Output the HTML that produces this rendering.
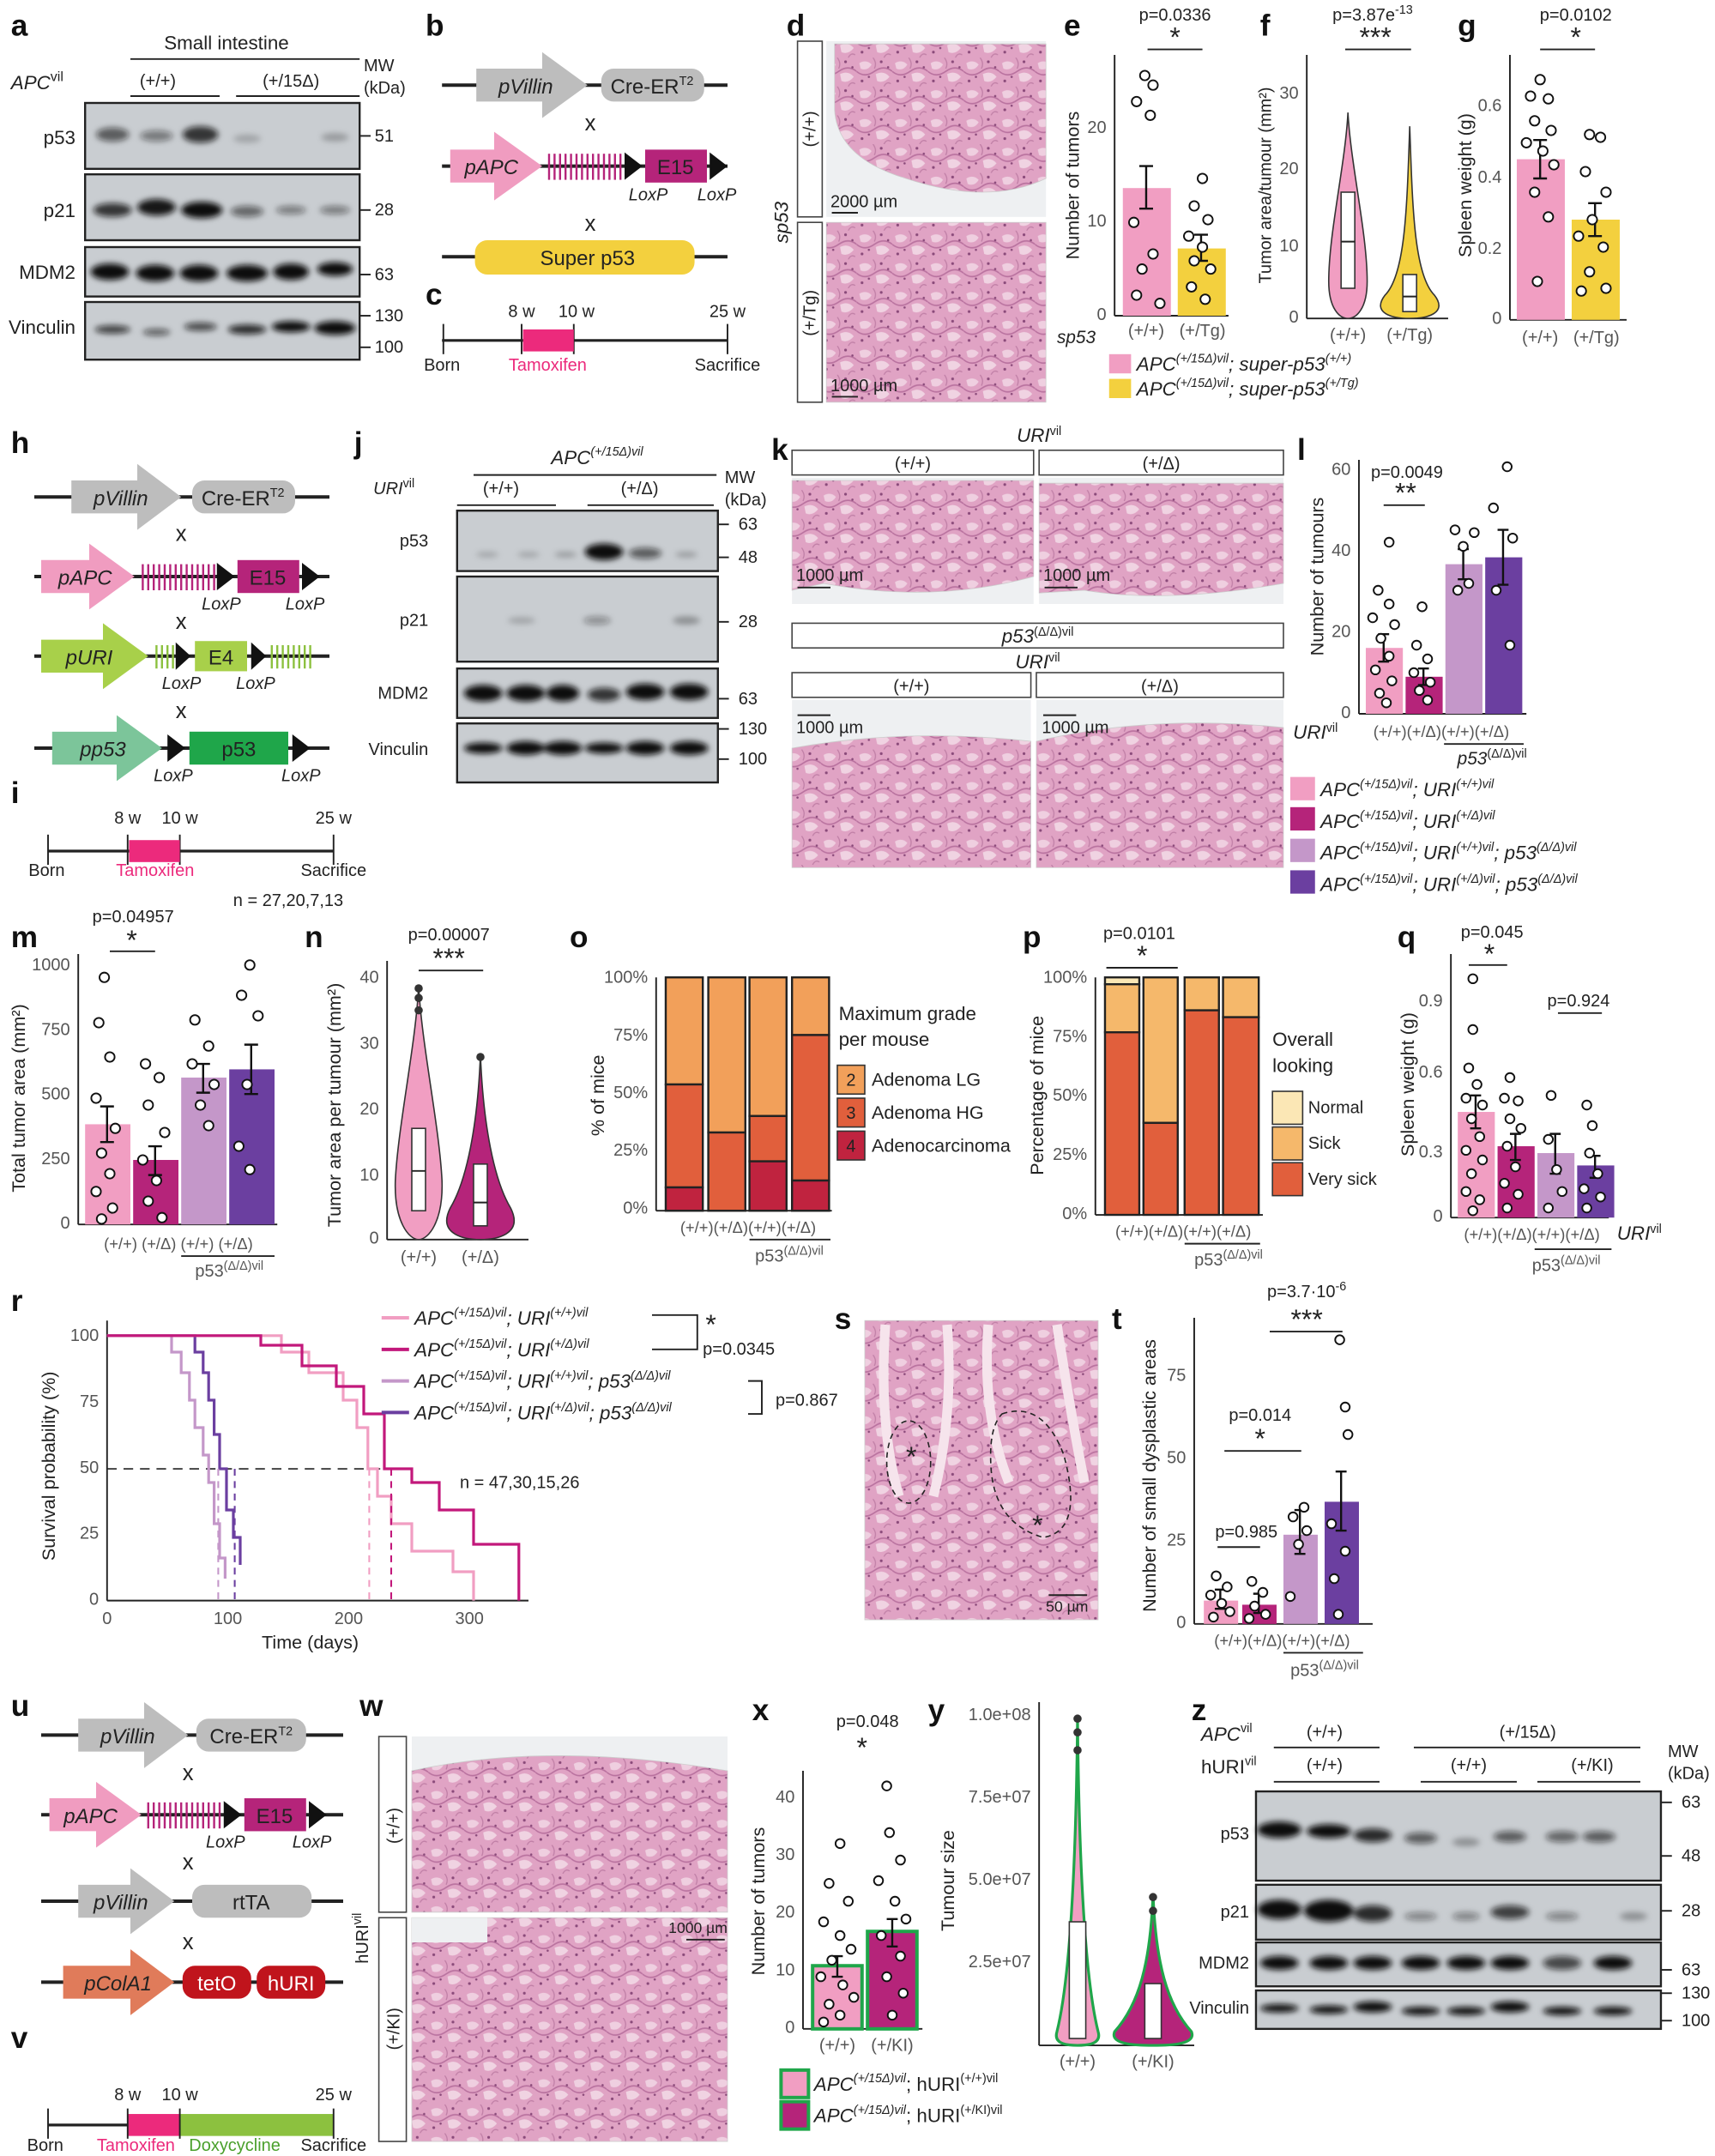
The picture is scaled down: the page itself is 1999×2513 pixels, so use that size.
<!DOCTYPE html>
<html><head><meta charset="utf-8"><style>
html,body{margin:0;padding:0;background:#fff}
svg{display:block}
text{font-family:"Liberation Sans",sans-serif;fill:#222}
.L{font-size:22px;font-weight:bold;fill:#111}
.s{fill:#555}
.i{font-style:italic}
.ax{stroke:#222;stroke-width:1.2;fill:none}
.d{fill:#fff;stroke:#111;stroke-width:1.2}
.eb{stroke:#111;stroke-width:1.5;fill:none}
.bl{fill:#c9cdd1;stroke:#222;stroke-width:1.5}
.bd{fill:#111;filter:url(#blur)}
.h{fill:url(#hist);stroke:#ccc;stroke-width:.5}
.lb{fill:#fff;stroke:#444;stroke-width:1}
</style></head><body>
<svg width="1999" height="2513" viewBox="0 0 1249.4 1570.6" preserveAspectRatio="none" xmlns="http://www.w3.org/2000/svg" font-size="12.5">
<defs>
<filter id="blur" x="-30%" y="-80%" width="160%" height="260%"><feGaussianBlur stdDeviation="2.2"/></filter>
<pattern id="hist" width="26" height="21" patternUnits="userSpaceOnUse">
<rect width="26" height="21" fill="#e0a3c4"/>
<path d="M2 4 Q7 1 11 5 Q8 10 3 8Z" fill="#efcfe0"/>
<path d="M14 12 Q20 9 24 14 Q20 19 15 17Z" fill="#f0d3e2"/>
<path d="M0 10 Q6 15 13 10 T26 10" stroke="#b9729f" stroke-width="1" fill="none"/>
<path d="M12 0 Q15 4 13 8 M20 21 Q22 17 25 19" stroke="#c07fa6" stroke-width=".8" fill="none"/>
<circle cx="4" cy="17" r="1" fill="#8a4a7a"/><circle cx="18" cy="3" r="1" fill="#8a4a7a"/><circle cx="9" cy="14" r=".8" fill="#8a4a7a"/><circle cx="23" cy="7" r=".8" fill="#8a4a7a"/>
</pattern>
</defs>

<!-- ================= a ================= -->
<text x="8" y="26" class="L">a</text>
<text x="165" y="36" text-anchor="middle" font-size="14">Small intestine</text>
<line x1="95" y1="43" x2="262" y2="43" class="ax"/>
<text x="8" y="65" class="i" font-size="14">APC<tspan font-style="normal" font-size="10" dy="-6">vil</tspan></text>
<text x="115" y="63" text-anchor="middle">(+/+)</text>
<text x="212" y="63" text-anchor="middle">(+/15Δ)</text>
<line x1="95" y1="70" x2="160" y2="70" class="ax"/><line x1="172" y1="70" x2="262" y2="70" class="ax"/>
<text x="265" y="52">MW</text><text x="265" y="68">(kDa)</text>
<rect x="62" y="75" width="200" height="48" class="bl"/>
<rect x="62" y="127" width="200" height="48" class="bl"/>
<rect x="62" y="180" width="200" height="36" class="bl"/>
<rect x="62" y="220" width="200" height="42" class="bl"/>
<g class="bd">
<ellipse cx="82" cy="98" rx="12" ry="5" opacity=".6"/><ellipse cx="114" cy="99" rx="12" ry="4" opacity=".45"/><ellipse cx="146" cy="98" rx="13" ry="6" opacity=".8"/>
<ellipse cx="180" cy="101" rx="10" ry="3" opacity=".2"/><ellipse cx="244" cy="100" rx="10" ry="3" opacity=".25"/>
<ellipse cx="82" cy="153" rx="14" ry="5" opacity=".8"/><ellipse cx="114" cy="151" rx="14" ry="6" opacity=".95"/><ellipse cx="147" cy="153" rx="15" ry="6"/>
<ellipse cx="180" cy="154" rx="12" ry="4" opacity=".55"/><ellipse cx="212" cy="153" rx="11" ry="3" opacity=".45"/><ellipse cx="244" cy="153" rx="11" ry="3" opacity=".45"/>
<ellipse cx="80" cy="198" rx="14" ry="6"/><ellipse cx="113" cy="199" rx="14" ry="6"/><ellipse cx="145" cy="199" rx="14" ry="6"/>
<ellipse cx="180" cy="199" rx="15" ry="6"/><ellipse cx="212" cy="198" rx="13" ry="6"/><ellipse cx="244" cy="196" rx="13" ry="5"/>
<ellipse cx="82" cy="240" rx="13" ry="3" opacity=".75"/><ellipse cx="114" cy="242" rx="10" ry="2.5" opacity=".6"/><ellipse cx="146" cy="238" rx="12" ry="3" opacity=".7"/>
<ellipse cx="180" cy="240" rx="14" ry="3.5" opacity=".85"/><ellipse cx="212" cy="238" rx="14" ry="4"/><ellipse cx="244" cy="239" rx="15" ry="5"/>
</g>
<text x="55" y="105" text-anchor="end" font-size="14">p53</text>
<text x="55" y="158" text-anchor="end" font-size="14">p21</text>
<text x="55" y="203" text-anchor="end" font-size="14">MDM2</text>
<text x="55" y="243" text-anchor="end" font-size="14">Vinculin</text>
<g class="ax"><line x1="262" y1="99" x2="270" y2="99"/><line x1="262" y1="153" x2="270" y2="153"/><line x1="262" y1="200" x2="270" y2="200"/><line x1="262" y1="230" x2="270" y2="230"/><line x1="262" y1="253" x2="270" y2="253"/></g>
<text x="273" y="103">51</text><text x="273" y="157">28</text><text x="273" y="204">63</text><text x="273" y="234">130</text><text x="273" y="257">100</text>

<!-- ================= b ================= -->
<text x="310" y="26" class="L">b</text>
<line x1="322" y1="62" x2="530" y2="62" stroke="#222" stroke-width="2.5"/>
<path d="M347 50 H395 V38 L428 62 L395 86 V74 H347 Z" fill="#bdbdbd"/>
<text x="383" y="68" class="i" text-anchor="middle" font-size="15">pVillin</text>
<rect x="438" y="50" width="75" height="24" rx="9" fill="#bdbdbd"/>
<text x="475" y="68" text-anchor="middle" font-size="15">Cre-ER<tspan font-size="9" dy="-6">T2</tspan></text>
<text x="430" y="95" text-anchor="middle" font-size="16">x</text>
<line x1="322" y1="121" x2="530" y2="121" stroke="#222" stroke-width="2.5"/>
<path d="M328 109 H360 V96 L395 121 L360 146 V133 H328 Z" fill="#f09cc0"/>
<text x="358" y="127" class="i" text-anchor="middle" font-size="15">pAPC</text>
<g stroke="#b5247a" stroke-width="1.5">
<line x1="400" y1="112" x2="400" y2="131"/><line x1="404" y1="112" x2="404" y2="131"/><line x1="408" y1="112" x2="408" y2="131"/><line x1="412" y1="112" x2="412" y2="131"/><line x1="416" y1="112" x2="416" y2="131"/><line x1="420" y1="112" x2="420" y2="131"/><line x1="424" y1="112" x2="424" y2="131"/><line x1="428" y1="112" x2="428" y2="131"/><line x1="432" y1="112" x2="432" y2="131"/><line x1="436" y1="112" x2="436" y2="131"/><line x1="440" y1="112" x2="440" y2="131"/><line x1="444" y1="112" x2="444" y2="131"/><line x1="448" y1="112" x2="448" y2="131"/><line x1="452" y1="112" x2="452" y2="131"/></g>
<path d="M455 111 L468 121 L455 131 Z" fill="#111"/>
<rect x="470" y="109" width="45" height="24" fill="#b5247a"/>
<text x="492" y="127" text-anchor="middle" font-size="15">E15</text>
<path d="M517 111 L530 121 L517 131 Z" fill="#111"/>
<text x="458" y="146" class="i">LoxP</text><text x="508" y="146" class="i">LoxP</text>
<text x="430" y="168" text-anchor="middle" font-size="16">x</text>
<line x1="322" y1="187" x2="530" y2="187" stroke="#222" stroke-width="2.5"/>
<rect x="346" y="175" width="160" height="25" rx="9" fill="#f3d03e"/>
<text x="428" y="193" text-anchor="middle" font-size="15">Super p53</text>

<!-- c -->
<text x="310" y="222" class="L">c</text>
<line x1="322" y1="248" x2="530" y2="248" stroke="#222" stroke-width="2"/>
<line x1="323" y1="236" x2="323" y2="258" class="ax" stroke-width="2"/><line x1="380" y1="236" x2="380" y2="258" class="ax" stroke-width="2"/><line x1="418" y1="236" x2="418" y2="258" class="ax" stroke-width="2"/><line x1="530" y1="236" x2="530" y2="258" class="ax" stroke-width="2"/>
<rect x="381" y="240" width="37" height="16" fill="#ec2a7c"/>
<text x="380" y="231" text-anchor="middle">8 w</text><text x="420" y="231" text-anchor="middle">10 w</text><text x="530" y="231" text-anchor="middle">25 w</text>
<text x="322" y="270" text-anchor="middle">Born</text><text x="399" y="270" text-anchor="middle" style="fill:#ec2a7c">Tamoxifen</text><text x="530" y="270" text-anchor="middle">Sacrifice</text>

<!-- d -->
<text x="573" y="26" class="L">d</text>
<rect x="581" y="30" width="18" height="128" class="lb"/><rect x="581" y="162" width="18" height="131" class="lb"/>
<text transform="translate(594,94) rotate(-90)" text-anchor="middle">(+/+)</text>
<text transform="translate(594,228) rotate(-90)" text-anchor="middle">(+/Tg)</text>
<text transform="translate(574,162) rotate(-90)" class="i" text-anchor="middle" font-size="14">sp53</text>
<rect x="602" y="30" width="160" height="128" fill="#eef0f2"/>
<path d="M608 32 H762 V130 Q720 150 660 130 Q610 115 608 80 Z" class="h"/>
<rect x="602" y="162" width="160" height="131" class="h"/>
<text x="605" y="151">2000 µm</text><line x1="606" y1="155" x2="625" y2="155" class="ax"/>
<text x="605" y="285">1000 µm</text><line x1="606" y1="289" x2="625" y2="289" class="ax"/>

<!-- e -->
<text x="775" y="26" class="L">e</text>
<text x="856" y="15" text-anchor="middle">p=0.0336</text><text x="856" y="34" text-anchor="middle" font-size="20">*</text>
<line x1="836" y1="36" x2="876" y2="36" class="ax"/>
<text transform="translate(786,135) rotate(-90)" text-anchor="middle" font-size="13.5">Number of tumors</text>
<line x1="812" y1="40" x2="812" y2="230" class="ax"/><line x1="812" y1="230" x2="895" y2="230" class="ax"/>
<text x="806" y="233" class="s" text-anchor="end">0</text><text x="806" y="165" class="s" text-anchor="end">10</text><text x="806" y="97" class="s" text-anchor="end">20</text>
<rect x="818" y="137" width="35" height="93" fill="#f19ec2"/><rect x="858" y="181" width="35" height="49" fill="#f3d03e"/>
<path d="M835 121 V152 M830 121 H840 M830 152 H840 M875 171 V190 M870 171 H880 M870 190 H880" class="eb"/>
<g class="d"><circle cx="834" cy="55" r="3.5"/><circle cx="840" cy="62" r="3.5"/><circle cx="828" cy="74" r="3.5"/><circle cx="838" cy="84" r="3.5"/><circle cx="826" cy="162" r="3.5"/><circle cx="840" cy="185" r="3.5"/><circle cx="832" cy="196" r="3.5"/><circle cx="828" cy="215" r="3.5"/><circle cx="845" cy="221" r="3.5"/>
<circle cx="876" cy="130" r="3.5"/><circle cx="870" cy="150" r="3.5"/><circle cx="880" cy="160" r="3.5"/><circle cx="866" cy="172" r="3.5"/><circle cx="876" cy="180" r="3.5"/><circle cx="870" cy="190" r="3.5"/><circle cx="882" cy="196" r="3.5"/><circle cx="868" cy="209" r="3.5"/><circle cx="878" cy="218" r="3.5"/></g>
<text x="835" y="245" class="s" text-anchor="middle">(+/+)</text><text x="876" y="245" class="s" text-anchor="middle">(+/Tg)</text>
<text x="770" y="250" class="i" font-size="13">sp53</text>

<!-- f -->
<text x="918" y="26" class="L">f</text>
<text x="1000" y="15" text-anchor="middle">p=3.87e<tspan font-size="9" dy="-5">-13</tspan></text><text x="1002" y="34" text-anchor="middle" font-size="20">***</text>
<line x1="980" y1="36" x2="1028" y2="36" class="ax"/>
<text transform="translate(926,135) rotate(-90)" text-anchor="middle">Tumor area/tumour (mm²)</text>
<line x1="952" y1="40" x2="952" y2="232" class="ax"/><line x1="952" y1="232" x2="1055" y2="232" class="ax"/>
<text x="946" y="235" class="s" text-anchor="end">0</text><text x="946" y="183" class="s" text-anchor="end">10</text><text x="946" y="127" class="s" text-anchor="end">20</text><text x="946" y="72" class="s" text-anchor="end">30</text>
<path d="M982 82 C984 120 996 170 996 205 C996 225 988 232 982 232 C976 232 968 225 968 205 C968 170 980 120 982 82Z" fill="#f19ec2" stroke="#333"/>
<path d="M1027 92 C1029 150 1030 200 1045 215 C1055 228 1040 232 1027 232 C1014 232 999 228 1009 215 C1024 200 1025 150 1027 92Z" fill="#f3d03e" stroke="#333"/>
<rect x="977" y="140" width="10" height="70" fill="#fff" stroke="#333"/><line x1="977" y1="176" x2="987" y2="176" class="ax"/>
<rect x="1022" y="200" width="10" height="27" fill="#fff" stroke="#333"/><line x1="1022" y1="216" x2="1032" y2="216" class="ax"/>
<text x="982" y="248" class="s" text-anchor="middle">(+/+)</text><text x="1027" y="248" class="s" text-anchor="middle">(+/Tg)</text>

<!-- g -->
<text x="1062" y="26" class="L">g</text>
<text x="1148" y="15" text-anchor="middle">p=0.0102</text><text x="1148" y="34" text-anchor="middle" font-size="20">*</text>
<line x1="1122" y1="36" x2="1162" y2="36" class="ax"/>
<text transform="translate(1072,135) rotate(-90)" text-anchor="middle" font-size="13.5">Spleen weight (g)</text>
<line x1="1100" y1="40" x2="1100" y2="233" class="ax"/><line x1="1100" y1="233" x2="1185" y2="233" class="ax"/>
<text x="1094" y="236" class="s" text-anchor="end">0</text><text x="1094" y="185" class="s" text-anchor="end">0.2</text><text x="1094" y="133" class="s" text-anchor="end">0.4</text><text x="1094" y="81" class="s" text-anchor="end">0.6</text>
<rect x="1105" y="116" width="35" height="117" fill="#f19ec2"/><rect x="1145" y="160" width="35" height="73" fill="#f3d03e"/>
<path d="M1122 102 V130 M1117 102 H1127 M1117 130 H1127 M1162 148 V172 M1157 148 H1167 M1157 172 H1167" class="eb"/>
<g class="d"><circle cx="1122" cy="58" r="3.5"/><circle cx="1115" cy="70" r="3.5"/><circle cx="1128" cy="72" r="3.5"/><circle cx="1118" cy="88" r="3.5"/><circle cx="1130" cy="95" r="3.5"/><circle cx="1112" cy="104" r="3.5"/><circle cx="1124" cy="110" r="3.5"/><circle cx="1132" cy="120" r="3.5"/><circle cx="1118" cy="140" r="3.5"/><circle cx="1128" cy="158" r="3.5"/><circle cx="1120" cy="205" r="3.5"/>
<circle cx="1158" cy="98" r="3.5"/><circle cx="1166" cy="100" r="3.5"/><circle cx="1155" cy="125" r="3.5"/><circle cx="1170" cy="140" r="3.5"/><circle cx="1160" cy="160" r="3.5"/><circle cx="1150" cy="172" r="3.5"/><circle cx="1168" cy="180" r="3.5"/><circle cx="1158" cy="198" r="3.5"/><circle cx="1170" cy="210" r="3.5"/><circle cx="1152" cy="212" r="3.5"/></g>
<text x="1122" y="250" class="s" text-anchor="middle">(+/+)</text><text x="1163" y="250" class="s" text-anchor="middle">(+/Tg)</text>

<rect x="808" y="258" width="16" height="14" fill="#f19ec2"/><rect x="808" y="276" width="16" height="14" fill="#f3d03e"/>
<text x="828" y="270" class="i" font-size="14">APC<tspan font-size="9" dy="-6">(+/15Δ)vil</tspan><tspan dy="6">; super-p53</tspan><tspan font-size="9" dy="-6">(+/+)</tspan></text>
<text x="828" y="288" class="i" font-size="14">APC<tspan font-size="9" dy="-6">(+/15Δ)vil</tspan><tspan dy="6">; super-p53</tspan><tspan font-size="9" dy="-6">(+/Tg)</tspan></text>

<!-- ================= h ================= -->
<text x="8" y="330" class="L">h</text>
<line x1="25" y1="362" x2="240" y2="362" stroke="#222" stroke-width="2.5"/>
<path d="M52 350 H100 V338 L132 362 L100 386 V374 H52 Z" fill="#bdbdbd"/>
<text x="88" y="368" class="i" text-anchor="middle" font-size="15">pVillin</text>
<rect x="140" y="350" width="75" height="24" rx="9" fill="#bdbdbd"/>
<text x="177" y="368" text-anchor="middle" font-size="15">Cre-ER<tspan font-size="9" dy="-6">T2</tspan></text>
<text x="132" y="394" text-anchor="middle" font-size="16">x</text>
<line x1="25" y1="420" x2="240" y2="420" stroke="#222" stroke-width="2.5"/>
<path d="M30 408 H65 V396 L98 420 L65 444 V432 H30 Z" fill="#f09cc0"/>
<text x="62" y="426" class="i" text-anchor="middle" font-size="15">pAPC</text>
<g stroke="#b5247a" stroke-width="1.5"><line x1="104" y1="411" x2="104" y2="430"/><line x1="108" y1="411" x2="108" y2="430"/><line x1="112" y1="411" x2="112" y2="430"/><line x1="116" y1="411" x2="116" y2="430"/><line x1="120" y1="411" x2="120" y2="430"/><line x1="124" y1="411" x2="124" y2="430"/><line x1="128" y1="411" x2="128" y2="430"/><line x1="132" y1="411" x2="132" y2="430"/><line x1="136" y1="411" x2="136" y2="430"/><line x1="140" y1="411" x2="140" y2="430"/><line x1="144" y1="411" x2="144" y2="430"/><line x1="148" y1="411" x2="148" y2="430"/><line x1="152" y1="411" x2="152" y2="430"/><line x1="156" y1="411" x2="156" y2="430"/></g>
<path d="M158 410 L171 420 L158 430 Z" fill="#111"/>
<rect x="173" y="408" width="45" height="24" fill="#b5247a"/><text x="195" y="426" text-anchor="middle" font-size="15">E15</text>
<path d="M220 410 L233 420 L220 430 Z" fill="#111"/>
<text x="147" y="444" class="i">LoxP</text><text x="208" y="444" class="i">LoxP</text>
<text x="132" y="458" text-anchor="middle" font-size="16">x</text>
<line x1="25" y1="478" x2="240" y2="478" stroke="#222" stroke-width="2.5"/>
<path d="M30 466 H75 V454 L108 478 L75 502 V490 H30 Z" fill="#a8d04a"/>
<text x="65" y="484" class="i" text-anchor="middle" font-size="15">pURI</text>
<g stroke="#8cc13f" stroke-width="1.5"><line x1="114" y1="470" x2="114" y2="487"/><line x1="118" y1="470" x2="118" y2="487"/><line x1="122" y1="470" x2="122" y2="487"/><line x1="126" y1="470" x2="126" y2="487"/><line x1="198" y1="470" x2="198" y2="487"/><line x1="202" y1="470" x2="202" y2="487"/><line x1="206" y1="470" x2="206" y2="487"/><line x1="210" y1="470" x2="210" y2="487"/><line x1="214" y1="470" x2="214" y2="487"/><line x1="218" y1="470" x2="218" y2="487"/><line x1="222" y1="470" x2="222" y2="487"/><line x1="226" y1="470" x2="226" y2="487"/></g>
<path d="M128 468 L139 478 L128 488 Z" fill="#111"/>
<rect x="142" y="467" width="38" height="22" fill="#a8d04a"/><text x="161" y="484" text-anchor="middle" font-size="15">E4</text>
<path d="M183 468 L194 478 L183 488 Z" fill="#111"/>
<text x="118" y="502" class="i">LoxP</text><text x="172" y="502" class="i">LoxP</text>
<text x="132" y="523" text-anchor="middle" font-size="16">x</text>
<line x1="25" y1="545" x2="240" y2="545" stroke="#222" stroke-width="2.5"/>
<path d="M38 533 H85 V521 L118 545 L85 569 V557 H38 Z" fill="#7cc59a"/>
<text x="75" y="551" class="i" text-anchor="middle" font-size="15">pp53</text>
<path d="M122 535 L135 545 L122 555 Z" fill="#111"/>
<rect x="138" y="533" width="72" height="24" fill="#1fa64a"/><text x="174" y="551" text-anchor="middle" font-size="15">p53</text>
<path d="M213 535 L226 545 L213 555 Z" fill="#111"/>
<text x="112" y="569" class="i">LoxP</text><text x="205" y="569" class="i">LoxP</text>

<!-- i -->
<text x="8" y="585" class="L">i</text>
<line x1="35" y1="620" x2="243" y2="620" stroke="#222" stroke-width="2"/>
<line x1="35" y1="608" x2="35" y2="630" class="ax" stroke-width="2"/><line x1="93" y1="608" x2="93" y2="630" class="ax" stroke-width="2"/><line x1="131" y1="608" x2="131" y2="630" class="ax" stroke-width="2"/><line x1="243" y1="608" x2="243" y2="630" class="ax" stroke-width="2"/>
<rect x="94" y="612" width="37" height="16" fill="#ec2a7c"/>
<text x="93" y="600" text-anchor="middle">8 w</text><text x="131" y="600" text-anchor="middle">10 w</text><text x="243" y="600" text-anchor="middle">25 w</text>
<text x="34" y="638" text-anchor="middle">Born</text><text x="113" y="638" text-anchor="middle" style="fill:#ec2a7c">Tamoxifen</text><text x="243" y="638" text-anchor="middle">Sacrifice</text>
<text x="210" y="660" text-anchor="middle">n = 27,20,7,13</text>

<!-- j -->
<text x="258" y="330" class="L">j</text>
<text x="435" y="338" class="i" text-anchor="middle" font-size="14">APC<tspan font-size="9" dy="-6">(+/15Δ)vil</tspan></text>
<line x1="345" y1="346" x2="522" y2="346" class="ax"/>
<text x="272" y="360" class="i">URI<tspan font-size="9" dy="-5" font-style="normal">vil</tspan></text>
<text x="365" y="360" text-anchor="middle">(+/+)</text><text x="466" y="360" text-anchor="middle">(+/Δ)</text>
<line x1="333" y1="368" x2="405" y2="368" class="ax"/><line x1="428" y1="368" x2="520" y2="368" class="ax"/>
<text x="528" y="352">MW</text><text x="528" y="368">(kDa)</text>
<rect x="333" y="372" width="190" height="44" class="bl"/><rect x="333" y="420" width="190" height="62" class="bl"/><rect x="333" y="487" width="190" height="36" class="bl"/><rect x="333" y="527" width="190" height="43" class="bl"/>
<g class="bd">
<ellipse cx="355" cy="404" rx="8" ry="2" opacity=".2"/><ellipse cx="385" cy="404" rx="8" ry="2" opacity=".2"/><ellipse cx="412" cy="404" rx="8" ry="2" opacity=".25"/>
<ellipse cx="440" cy="402" rx="14" ry="6"/><ellipse cx="470" cy="403" rx="12" ry="4" opacity=".6"/><ellipse cx="500" cy="404" rx="8" ry="2" opacity=".25"/>
<ellipse cx="380" cy="452" rx="10" ry="2.5" opacity=".2"/><ellipse cx="435" cy="452" rx="10" ry="3" opacity=".35"/><ellipse cx="500" cy="452" rx="10" ry="3" opacity=".3"/>
<ellipse cx="352" cy="505" rx="14" ry="6"/><ellipse cx="383" cy="505" rx="14" ry="6"/><ellipse cx="410" cy="505" rx="12" ry="6"/><ellipse cx="440" cy="506" rx="12" ry="5" opacity=".8"/><ellipse cx="470" cy="504" rx="14" ry="6"/><ellipse cx="502" cy="504" rx="14" ry="6"/>
<ellipse cx="352" cy="545" rx="14" ry="4"/><ellipse cx="383" cy="545" rx="14" ry="5"/><ellipse cx="410" cy="545" rx="14" ry="5"/><ellipse cx="440" cy="545" rx="14" ry="4"/><ellipse cx="470" cy="545" rx="14" ry="5"/><ellipse cx="502" cy="545" rx="14" ry="5"/>
</g>
<text x="312" y="398" text-anchor="end">p53</text><text x="312" y="456" text-anchor="end">p21</text><text x="312" y="509" text-anchor="end">MDM2</text><text x="312" y="550" text-anchor="end">Vinculin</text>
<g class="ax"><line x1="523" y1="382" x2="531" y2="382"/><line x1="523" y1="406" x2="531" y2="406"/><line x1="523" y1="453" x2="531" y2="453"/><line x1="523" y1="509" x2="531" y2="509"/><line x1="523" y1="531" x2="531" y2="531"/><line x1="523" y1="553" x2="531" y2="553"/></g>
<text x="538" y="386">63</text><text x="538" y="410">48</text><text x="538" y="457">28</text><text x="538" y="513">63</text><text x="538" y="535">130</text><text x="538" y="557">100</text>

<!-- k -->
<text x="562" y="335" class="L">k</text>
<text x="757" y="322" class="i" text-anchor="middle" font-size="14">URI<tspan font-size="9" font-style="normal" dy="-5">vil</tspan></text>
<rect x="577" y="328" width="176" height="18" class="lb"/><rect x="757" y="328" width="178" height="18" class="lb"/>
<text x="665" y="342" text-anchor="middle">(+/+)</text><text x="846" y="342" text-anchor="middle">(+/Δ)</text>
<rect x="577" y="348" width="176" height="92" fill="#eef0f2"/><path d="M577 350 H753 V420 Q680 440 600 425 L577 430 Z" class="h"/>
<rect x="757" y="348" width="178" height="92" fill="#eef0f2"/><path d="M757 352 H935 V425 Q850 440 790 430 L757 432 Z" class="h"/>
<text x="580" y="423">1000 µm</text><line x1="581" y1="428" x2="605" y2="428" class="ax"/>
<text x="760" y="423">1000 µm</text><line x1="761" y1="428" x2="785" y2="428" class="ax"/>
<rect x="577" y="454" width="358" height="18" class="lb"/>
<text x="756" y="468" class="i" text-anchor="middle" font-size="14">p53<tspan font-size="9" font-style="normal" dy="-5">(Δ/Δ)vil</tspan></text>
<text x="756" y="487" class="i" text-anchor="middle" font-size="14">URI<tspan font-size="9" font-style="normal" dy="-5">vil</tspan></text>
<rect x="577" y="490" width="174" height="18" class="lb"/><rect x="755" y="490" width="180" height="18" class="lb"/>
<text x="664" y="504" text-anchor="middle">(+/+)</text><text x="845" y="504" text-anchor="middle">(+/Δ)</text>
<rect x="577" y="510" width="174" height="122" fill="#eef0f2"/><path d="M577 545 Q660 530 751 540 V632 H577 Z" class="h"/>
<rect x="755" y="510" width="180" height="122" fill="#eef0f2"/><path d="M755 540 Q840 520 935 530 V632 H755 Z" class="h"/>
<text x="580" y="534">1000 µm</text><line x1="581" y1="521" x2="605" y2="521" class="ax"/>
<text x="759" y="534">1000 µm</text><line x1="760" y1="521" x2="784" y2="521" class="ax"/>

<!-- l -->
<text x="945" y="335" class="L">l</text>
<text x="1025" y="348" text-anchor="middle">p=0.0049</text><text x="1024" y="366" text-anchor="middle" font-size="20">**</text>
<line x1="1008" y1="368" x2="1038" y2="368" class="ax"/>
<text transform="translate(964,420) rotate(-90)" text-anchor="middle" font-size="13.5">Number of tumours</text>
<line x1="990" y1="335" x2="990" y2="520" class="ax"/><line x1="990" y1="520" x2="1112" y2="520" class="ax"/>
<text x="984" y="523" class="s" text-anchor="end">0</text><text x="984" y="464" class="s" text-anchor="end">20</text><text x="984" y="405" class="s" text-anchor="end">40</text><text x="984" y="346" class="s" text-anchor="end">60</text>
<rect x="995" y="472" width="27" height="48" fill="#f19ec2"/><rect x="1024" y="493" width="27" height="27" fill="#b5247a"/><rect x="1053" y="411" width="27" height="109" fill="#c497c9"/><rect x="1082" y="406" width="27" height="114" fill="#6b3fa0"/>
<path d="M1008 462 V482 M1004 462 H1012 M1004 482 H1012 M1037 487 V499 M1033 487 H1041 M1033 499 H1041 M1066 400 V422 M1062 400 H1070 M1062 422 H1070 M1095 386 V426 M1091 386 H1099 M1091 426 H1099" class="eb"/>
<g class="d"><circle cx="1012" cy="395" r="3.3"/><circle cx="1004" cy="430" r="3.3"/><circle cx="1012" cy="440" r="3.3"/><circle cx="1000" cy="450" r="3.3"/><circle cx="1016" cy="455" r="3.3"/><circle cx="1006" cy="465" r="3.3"/><circle cx="1012" cy="478" r="3.3"/><circle cx="1002" cy="488" r="3.3"/><circle cx="1014" cy="496" r="3.3"/><circle cx="1005" cy="505" r="3.3"/><circle cx="1010" cy="512" r="3.3"/>
<circle cx="1036" cy="442" r="3.3"/><circle cx="1032" cy="470" r="3.3"/><circle cx="1040" cy="480" r="3.3"/><circle cx="1030" cy="490" r="3.3"/><circle cx="1042" cy="497" r="3.3"/><circle cx="1034" cy="503" r="3.3"/><circle cx="1040" cy="510" r="3.3"/>
<circle cx="1060" cy="386" r="3.3"/><circle cx="1074" cy="388" r="3.3"/><circle cx="1066" cy="398" r="3.3"/><circle cx="1070" cy="425" r="3.3"/><circle cx="1062" cy="430" r="3.3"/>
<circle cx="1098" cy="340" r="3.3"/><circle cx="1088" cy="370" r="3.3"/><circle cx="1102" cy="392" r="3.3"/><circle cx="1090" cy="430" r="3.3"/><circle cx="1100" cy="470" r="3.3"/></g>
<text x="1050" y="537" class="s" text-anchor="middle" font-size="11.5">(+/+)(+/Δ)(+/+)(+/Δ)</text>
<text x="942" y="538" class="i" font-size="14">URI<tspan font-size="9" font-style="normal" dy="-5">vil</tspan></text>
<line x1="1052" y1="542" x2="1110" y2="542" class="ax"/>
<text x="1087" y="557" class="i" text-anchor="middle" font-size="13">p53<tspan font-size="9" font-style="normal" dy="-5">(Δ/Δ)vil</tspan></text>
<rect x="940" y="566" width="18" height="17" fill="#f19ec2"/><rect x="940" y="588" width="18" height="17" fill="#b5247a"/><rect x="940" y="611" width="18" height="17" fill="#c497c9"/><rect x="940" y="634" width="18" height="17" fill="#6b3fa0"/>
<text x="962" y="580" class="i" font-size="14">APC<tspan font-size="9" dy="-6">(+/15Δ)vil</tspan><tspan dy="6">; URI</tspan><tspan font-size="9" dy="-6">(+/+)vil</tspan></text>
<text x="962" y="603" class="i" font-size="14">APC<tspan font-size="9" dy="-6">(+/15Δ)vil</tspan><tspan dy="6">; URI</tspan><tspan font-size="9" dy="-6">(+/Δ)vil</tspan></text>
<text x="962" y="626" class="i" font-size="14">APC<tspan font-size="9" dy="-6">(+/15Δ)vil</tspan><tspan dy="6">; URI</tspan><tspan font-size="9" dy="-6">(+/+)vil</tspan><tspan dy="6">; p53</tspan><tspan font-size="9" dy="-6">(Δ/Δ)vil</tspan></text>
<text x="962" y="649" class="i" font-size="14">APC<tspan font-size="9" dy="-6">(+/15Δ)vil</tspan><tspan dy="6">; URI</tspan><tspan font-size="9" dy="-6">(+/Δ)vil</tspan><tspan dy="6">; p53</tspan><tspan font-size="9" dy="-6">(Δ/Δ)vil</tspan></text>

<!-- m -->
<text x="8" y="690" class="L">m</text>
<text x="97" y="672" text-anchor="middle">p=0.04957</text><text x="96" y="692" text-anchor="middle" font-size="20">*</text>
<line x1="80" y1="693" x2="113" y2="693" class="ax"/>
<text transform="translate(18,800) rotate(-90)" text-anchor="middle" font-size="13.5">Total tumor area (mm²)</text>
<line x1="57" y1="695" x2="57" y2="892" class="ax"/><line x1="57" y1="892" x2="202" y2="892" class="ax"/>
<text x="51" y="895" class="s" text-anchor="end">0</text><text x="51" y="848" class="s" text-anchor="end">250</text><text x="51" y="801" class="s" text-anchor="end">500</text><text x="51" y="754" class="s" text-anchor="end">750</text><text x="51" y="707" class="s" text-anchor="end">1000</text>
<rect x="62" y="819" width="33" height="73" fill="#f19ec2"/><rect x="97" y="845" width="33" height="47" fill="#b5247a"/><rect x="132" y="785" width="33" height="107" fill="#c497c9"/><rect x="167" y="779" width="33" height="113" fill="#6b3fa0"/>
<path d="M78 806 V832 M73 806 H83 M73 832 H83 M113 835 V856 M108 835 H118 M108 856 H118 M148 775 V796 M143 775 H153 M143 796 H153 M183 761 V797 M178 761 H188 M178 797 H188" class="eb"/>
<g class="d"><circle cx="76" cy="712" r="3.5"/><circle cx="72" cy="745" r="3.5"/><circle cx="80" cy="770" r="3.5"/><circle cx="70" cy="800" r="3.5"/><circle cx="84" cy="822" r="3.5"/><circle cx="74" cy="840" r="3.5"/><circle cx="80" cy="855" r="3.5"/><circle cx="70" cy="868" r="3.5"/><circle cx="82" cy="880" r="3.5"/><circle cx="74" cy="888" r="3.5"/>
<circle cx="106" cy="775" r="3.5"/><circle cx="116" cy="785" r="3.5"/><circle cx="108" cy="805" r="3.5"/><circle cx="120" cy="825" r="3.5"/><circle cx="104" cy="845" r="3.5"/><circle cx="114" cy="860" r="3.5"/><circle cx="108" cy="875" r="3.5"/><circle cx="118" cy="887" r="3.5"/>
<circle cx="142" cy="743" r="3.5"/><circle cx="152" cy="762" r="3.5"/><circle cx="140" cy="775" r="3.5"/><circle cx="156" cy="790" r="3.5"/><circle cx="146" cy="805" r="3.5"/><circle cx="152" cy="820" r="3.5"/>
<circle cx="182" cy="703" r="3.5"/><circle cx="176" cy="725" r="3.5"/><circle cx="188" cy="740" r="3.5"/><circle cx="180" cy="790" r="3.5"/><circle cx="174" cy="835" r="3.5"/><circle cx="182" cy="852" r="3.5"/></g>
<text x="130" y="910" class="s" text-anchor="middle" font-size="11.5">(+/+) (+/Δ) (+/+) (+/Δ)</text>
<line x1="132" y1="915" x2="200" y2="915" class="ax"/>
<text x="167" y="930" class="s" text-anchor="middle" font-size="12.5">p53<tspan font-size="9" dy="-5">(Δ/Δ)vil</tspan></text>

<!-- n -->
<text x="222" y="690" class="L">n</text>
<text x="327" y="685" text-anchor="middle">p=0.00007</text><text x="327" y="705" text-anchor="middle" font-size="20">***</text>
<line x1="305" y1="707" x2="352" y2="707" class="ax"/>
<text transform="translate(248,805) rotate(-90)" text-anchor="middle" font-size="13.5">Tumor area per tumour (mm²)</text>
<line x1="282" y1="700" x2="282" y2="903" class="ax"/><line x1="282" y1="903" x2="385" y2="903" class="ax"/>
<text x="276" y="906" class="s" text-anchor="end">0</text><text x="276" y="860" class="s" text-anchor="end">10</text><text x="276" y="812" class="s" text-anchor="end">20</text><text x="276" y="764" class="s" text-anchor="end">30</text><text x="276" y="716" class="s" text-anchor="end">40</text>
<path d="M305 718 C307 760 320 820 322 860 C323 890 312 903 305 903 C298 903 287 890 288 860 C290 820 303 760 305 718Z" fill="#f19ec2" stroke="#333"/>
<path d="M350 768 C352 820 360 860 372 880 C382 900 360 903 350 903 C340 903 318 900 328 880 C340 860 348 820 350 768Z" fill="#b5247a" stroke="#333"/>
<rect x="300" y="822" width="10" height="60" fill="#fff" stroke="#333"/><line x1="300" y1="853" x2="310" y2="853" class="ax"/>
<rect x="345" y="848" width="10" height="45" fill="#fff" stroke="#333"/><line x1="345" y1="876" x2="355" y2="876" class="ax"/>
<g fill="#333"><circle cx="305" cy="720" r="3"/><circle cx="305" cy="727" r="3"/><circle cx="305" cy="736" r="3"/><circle cx="350" cy="770" r="3"/></g>
<text x="305" y="920" class="s" text-anchor="middle">(+/+)</text><text x="350" y="920" class="s" text-anchor="middle">(+/Δ)</text>

<!-- o -->
<text x="415" y="690" class="L">o</text>
<text transform="translate(440,798) rotate(-90)" text-anchor="middle" font-size="13.5">% of mice</text>
<line x1="478" y1="712" x2="478" y2="882" class="ax"/><line x1="478" y1="882" x2="606" y2="882" class="ax"/>
<text x="472" y="716" class="s" text-anchor="end">100%</text><text x="472" y="758" class="s" text-anchor="end">75%</text><text x="472" y="800" class="s" text-anchor="end">50%</text><text x="472" y="842" class="s" text-anchor="end">25%</text><text x="472" y="884" class="s" text-anchor="end">0%</text>
<g stroke="#222" stroke-width="1.5">
<rect x="485" y="712" width="27" height="78" fill="#f2a05a"/><rect x="485" y="790" width="27" height="75" fill="#e15f3c"/><rect x="485" y="865" width="27" height="17" fill="#c0233f"/>
<rect x="516" y="712" width="27" height="113" fill="#f2a05a"/><rect x="516" y="825" width="27" height="57" fill="#e15f3c"/>
<rect x="546" y="712" width="27" height="101" fill="#f2a05a"/><rect x="546" y="813" width="27" height="33" fill="#e15f3c"/><rect x="546" y="846" width="27" height="36" fill="#c0233f"/>
<rect x="577" y="712" width="27" height="42" fill="#f2a05a"/><rect x="577" y="754" width="27" height="106" fill="#e15f3c"/><rect x="577" y="860" width="27" height="22" fill="#c0233f"/>
</g>
<text x="545" y="898" class="s" text-anchor="middle" font-size="11.5">(+/+)(+/Δ)(+/+)(+/Δ)</text>
<line x1="546" y1="903" x2="605" y2="903" class="ax"/>
<text x="575" y="919" class="s" text-anchor="middle" font-size="12.5">p53<tspan font-size="9" dy="-5">(Δ/Δ)vil</tspan></text>
<text x="611" y="743" font-size="14">Maximum grade</text><text x="611" y="762" font-size="14">per mouse</text>
<g stroke="#333"><rect x="610" y="776" width="20" height="21" fill="#f2a05a"/><rect x="610" y="800" width="20" height="21" fill="#e15f3c"/><rect x="610" y="824" width="20" height="21" fill="#c0233f"/></g>
<text x="620" y="791" text-anchor="middle">2</text><text x="620" y="815" text-anchor="middle">3</text><text x="620" y="839" text-anchor="middle">4</text>
<text x="635" y="791" font-size="13.5">Adenoma LG</text><text x="635" y="815" font-size="13.5">Adenoma HG</text><text x="635" y="839" font-size="13.5">Adenocarcinoma</text>

<!-- p -->
<text x="745" y="690" class="L">p</text>
<text x="830" y="684" text-anchor="middle">p=0.0101</text><text x="832" y="703" text-anchor="middle" font-size="20">*</text>
<line x1="806" y1="705" x2="858" y2="705" class="ax"/>
<text transform="translate(760,798) rotate(-90)" text-anchor="middle" font-size="13.5">Percentage of mice</text>
<line x1="798" y1="712" x2="798" y2="885" class="ax"/><line x1="798" y1="885" x2="920" y2="885" class="ax"/>
<text x="792" y="716" class="s" text-anchor="end">100%</text><text x="792" y="759" class="s" text-anchor="end">75%</text><text x="792" y="802" class="s" text-anchor="end">50%</text><text x="792" y="845" class="s" text-anchor="end">25%</text><text x="792" y="888" class="s" text-anchor="end">0%</text>
<g stroke="#222" stroke-width="1.5">
<rect x="805" y="712" width="25" height="5" fill="#fbe7b5"/><rect x="805" y="717" width="25" height="35" fill="#f5b86b"/><rect x="805" y="752" width="25" height="133" fill="#e15f3c"/>
<rect x="833" y="712" width="25" height="106" fill="#f5b86b"/><rect x="833" y="818" width="25" height="67" fill="#e15f3c"/>
<rect x="863" y="712" width="25" height="24" fill="#f5b86b"/><rect x="863" y="736" width="25" height="149" fill="#e15f3c"/>
<rect x="891" y="712" width="26" height="29" fill="#f5b86b"/><rect x="891" y="741" width="26" height="144" fill="#e15f3c"/>
</g>
<text x="862" y="901" class="s" text-anchor="middle" font-size="11.5">(+/+)(+/Δ)(+/+)(+/Δ)</text>
<line x1="863" y1="906" x2="918" y2="906" class="ax"/>
<text x="895" y="922" class="s" text-anchor="middle" font-size="12.5">p53<tspan font-size="9" dy="-5">(Δ/Δ)vil</tspan></text>
<text x="927" y="762" font-size="14">Overall</text><text x="927" y="781" font-size="14">looking</text>
<g stroke="#333"><rect x="927" y="795" width="22" height="24" fill="#fbe7b5"/><rect x="927" y="821" width="22" height="24" fill="#f5b86b"/><rect x="927" y="847" width="22" height="24" fill="#e15f3c"/></g>
<text x="953" y="811">Normal</text><text x="953" y="837">Sick</text><text x="953" y="863">Very sick</text>

<!-- q -->
<text x="1018" y="690" class="L">q</text>
<text x="1087" y="683" text-anchor="middle">p=0.045</text><text x="1085" y="702" text-anchor="middle" font-size="20">*</text>
<line x1="1070" y1="703" x2="1098" y2="703" class="ax"/>
<text x="1150" y="733" text-anchor="middle">p=0.924</text><line x1="1135" y1="738" x2="1167" y2="738" class="ax"/>
<text transform="translate(1030,790) rotate(-90)" text-anchor="middle" font-size="13.5">Spleen weight (g)</text>
<line x1="1057" y1="695" x2="1057" y2="887" class="ax"/><line x1="1057" y1="887" x2="1172" y2="887" class="ax"/>
<text x="1051" y="890" class="s" text-anchor="end">0</text><text x="1051" y="843" class="s" text-anchor="end">0.3</text><text x="1051" y="785" class="s" text-anchor="end">0.6</text><text x="1051" y="733" class="s" text-anchor="end">0.9</text>
<rect x="1062" y="810" width="27" height="77" fill="#f19ec2"/><rect x="1091" y="835" width="27" height="52" fill="#b5247a"/><rect x="1120" y="840" width="27" height="47" fill="#c497c9"/><rect x="1149" y="849" width="27" height="38" fill="#6b3fa0"/>
<path d="M1075 798 V822 M1071 798 H1079 M1071 822 H1079 M1104 826 V845 M1100 826 H1108 M1100 845 H1108 M1133 826 V855 M1129 826 H1137 M1129 855 H1137 M1162 842 V858 M1158 842 H1166 M1158 858 H1166" class="eb"/>
<g class="d"><circle cx="1073" cy="713" r="3.3"/><circle cx="1073" cy="750" r="3.3"/><circle cx="1070" cy="778" r="3.3"/><circle cx="1076" cy="790" r="3.3"/><circle cx="1068" cy="800" r="3.3"/><circle cx="1080" cy="805" r="3.3"/><circle cx="1072" cy="815" r="3.3"/><circle cx="1078" cy="828" r="3.3"/><circle cx="1068" cy="838" r="3.3"/><circle cx="1080" cy="845" r="3.3"/><circle cx="1072" cy="855" r="3.3"/><circle cx="1068" cy="868" r="3.3"/><circle cx="1078" cy="874" r="3.3"/><circle cx="1073" cy="882" r="3.3"/>
<circle cx="1100" cy="785" r="3.3"/><circle cx="1096" cy="800" r="3.3"/><circle cx="1106" cy="802" r="3.3"/><circle cx="1100" cy="815" r="3.3"/><circle cx="1108" cy="822" r="3.3"/><circle cx="1098" cy="835" r="3.3"/><circle cx="1104" cy="850" r="3.3"/><circle cx="1096" cy="862" r="3.3"/><circle cx="1106" cy="870" r="3.3"/><circle cx="1098" cy="880" r="3.3"/>
<circle cx="1130" cy="798" r="3.3"/><circle cx="1128" cy="830" r="3.3"/><circle cx="1134" cy="852" r="3.3"/><circle cx="1138" cy="868" r="3.3"/><circle cx="1128" cy="880" r="3.3"/>
<circle cx="1156" cy="805" r="3.3"/><circle cx="1160" cy="820" r="3.3"/><circle cx="1158" cy="840" r="3.3"/><circle cx="1164" cy="855" r="3.3"/><circle cx="1154" cy="866" r="3.3"/><circle cx="1166" cy="872" r="3.3"/><circle cx="1156" cy="880" r="3.3"/></g>
<text x="1116" y="903" class="s" text-anchor="middle" font-size="11.5">(+/+)(+/Δ)(+/+)(+/Δ)</text>
<text x="1178" y="903" class="i" font-size="14">URI<tspan font-size="9" font-style="normal" dy="-5">vil</tspan></text>
<line x1="1118" y1="910" x2="1174" y2="910" class="ax"/>
<text x="1141" y="926" class="s" text-anchor="middle" font-size="12.5">p53<tspan font-size="9" dy="-5">(Δ/Δ)vil</tspan></text>

<!-- r -->
<text x="8" y="955" class="L">r</text>
<text transform="translate(40,1068) rotate(-90)" text-anchor="middle" font-size="13.5">Survival probability (%)</text>
<line x1="78" y1="962" x2="78" y2="1166" class="ax"/><line x1="78" y1="1166" x2="385" y2="1166" class="ax"/>
<text x="72" y="1169" class="s" text-anchor="end">0</text><text x="72" y="1121" class="s" text-anchor="end">25</text><text x="72" y="1073" class="s" text-anchor="end">50</text><text x="72" y="1025" class="s" text-anchor="end">75</text><text x="72" y="977" class="s" text-anchor="end">100</text>
<text x="78" y="1183" class="s" text-anchor="middle">0</text><text x="166" y="1183" class="s" text-anchor="middle">100</text><text x="254" y="1183" class="s" text-anchor="middle">200</text><text x="342" y="1183" class="s" text-anchor="middle">300</text>
<text x="226" y="1201" text-anchor="middle" font-size="13.5">Time (days)</text>
<line x1="78" y1="1070" x2="290" y2="1070" stroke="#222" stroke-dasharray="7,5"/>
<g fill="none" stroke-width="2">
<path d="M78 973 H125 V985 H132 V1000 H138 V1020 H142 V1040 H148 V1060 H152 V1080 H156 V1110 H160 V1135 H164 V1150" stroke="#c497c9"/>
<path d="M78 973 H142 V985 H148 V1000 H152 V1020 H156 V1045 H160 V1070 H165 V1100 H170 V1120 H175 V1140" stroke="#6b3fa0"/>
<path d="M78 973 H205 V985 H225 V1000 H250 V1020 H260 V1040 H268 V1070 H275 V1090 H285 V1110 H300 V1130 H330 V1145 H345 V1166" stroke="#f19ec2"/>
<path d="M78 973 H190 V980 H220 V995 H245 V1010 H265 V1030 H280 V1070 H300 V1080 H320 V1100 H345 V1125 H378 V1166" stroke="#c2187b"/>
</g>
<g stroke-dasharray="5,4" stroke-width="1.3"><line x1="159" y1="1070" x2="159" y2="1166" stroke="#c497c9"/><line x1="171" y1="1070" x2="171" y2="1166" stroke="#6b3fa0"/><line x1="269" y1="1070" x2="269" y2="1166" stroke="#f19ec2"/><line x1="285" y1="1070" x2="285" y2="1166" stroke="#c2187b"/></g>
<text x="335" y="1084">n = 47,30,15,26</text>
<g stroke-width="2.5"><line x1="278" y1="960" x2="298" y2="960" stroke="#f19ec2"/><line x1="278" y1="983" x2="298" y2="983" stroke="#c2187b"/><line x1="278" y1="1006" x2="298" y2="1006" stroke="#c497c9"/><line x1="278" y1="1029" x2="298" y2="1029" stroke="#6b3fa0"/></g>
<text x="302" y="965" class="i" font-size="14">APC<tspan font-size="9" dy="-6">(+/15Δ)vil</tspan><tspan dy="6">; URI</tspan><tspan font-size="9" dy="-6">(+/+)vil</tspan></text>
<text x="302" y="988" class="i" font-size="14">APC<tspan font-size="9" dy="-6">(+/15Δ)vil</tspan><tspan dy="6">; URI</tspan><tspan font-size="9" dy="-6">(+/Δ)vil</tspan></text>
<text x="302" y="1011" class="i" font-size="14">APC<tspan font-size="9" dy="-6">(+/15Δ)vil</tspan><tspan dy="6">; URI</tspan><tspan font-size="9" dy="-6">(+/+)vil</tspan><tspan dy="6">; p53</tspan><tspan font-size="9" dy="-6">(Δ/Δ)vil</tspan></text>
<text x="302" y="1034" class="i" font-size="14">APC<tspan font-size="9" dy="-6">(+/15Δ)vil</tspan><tspan dy="6">; URI</tspan><tspan font-size="9" dy="-6">(+/Δ)vil</tspan><tspan dy="6">; p53</tspan><tspan font-size="9" dy="-6">(Δ/Δ)vil</tspan></text>
<path d="M475 958 H508 V983 H475" class="ax"/><text x="514" y="972" font-size="20">*</text><text x="512" y="987">p=0.0345</text>
<path d="M545 1006 H555 V1030 H545" class="ax"/><text x="565" y="1024">p=0.867</text>

<!-- s -->
<text x="608" y="968" class="L">s</text>
<rect x="630" y="962" width="170" height="218" class="h"/>
<path d="M645 965 Q640 1040 655 1090 M690 965 Q695 1030 680 1090 M720 965 Q715 1030 735 1080 M770 965 Q780 1030 790 1080" stroke="#f6e4ec" stroke-width="7" fill="none"/>
<ellipse cx="662" cy="1065" rx="16" ry="30" fill="none" stroke="#222" stroke-dasharray="4,3"/>
<path d="M730 1030 Q760 1020 775 1060 Q790 1115 760 1120 Q725 1110 722 1070 Q720 1040 730 1030Z" fill="none" stroke="#222" stroke-dasharray="4,3"/>
<text x="660" y="1068" font-size="20">*</text><text x="752" y="1118" font-size="20">*</text>
<text x="762" y="1174" font-size="11">50 µm</text><line x1="764" y1="1162" x2="792" y2="1162" class="ax"/>

<!-- t -->
<text x="810" y="968" class="L">t</text>
<text x="952" y="945" text-anchor="middle">p=3.7·10<tspan font-size="9" dy="-5">-6</tspan></text><text x="952" y="968" text-anchor="middle" font-size="20">***</text>
<line x1="925" y1="970" x2="978" y2="970" class="ax"/>
<text x="918" y="1035" text-anchor="middle">p=0.014</text><text x="918" y="1055" text-anchor="middle" font-size="20">*</text>
<line x1="892" y1="1057" x2="948" y2="1057" class="ax"/>
<text x="908" y="1120" text-anchor="middle">p=0.985</text><line x1="887" y1="1127" x2="918" y2="1127" class="ax"/>
<text transform="translate(842,1075) rotate(-90)" text-anchor="middle" font-size="13.5">Number of small dysplastic areas</text>
<line x1="870" y1="960" x2="870" y2="1183" class="ax"/><line x1="870" y1="1183" x2="1000" y2="1183" class="ax"/>
<text x="864" y="1186" class="s" text-anchor="end">0</text><text x="864" y="1126" class="s" text-anchor="end">25</text><text x="864" y="1066" class="s" text-anchor="end">50</text><text x="864" y="1006" class="s" text-anchor="end">75</text>
<rect x="877" y="1166" width="25" height="17" fill="#f19ec2"/><rect x="905" y="1169" width="25" height="14" fill="#b5247a"/><rect x="935" y="1118" width="25" height="65" fill="#c497c9"/><rect x="965" y="1094" width="25" height="89" fill="#6b3fa0"/>
<path d="M889 1158 V1172 M885 1158 H893 M885 1172 H893 M917 1161 V1175 M913 1161 H921 M913 1175 H921 M947 1100 V1132 M943 1100 H951 M943 1132 H951 M977 1072 V1115 M973 1072 H981 M973 1115 H981" class="eb"/>
<g class="d"><circle cx="886" cy="1148" r="3.3"/><circle cx="894" cy="1156" r="3.3"/><circle cx="882" cy="1162" r="3.3"/><circle cx="890" cy="1168" r="3.3"/><circle cx="896" cy="1174" r="3.3"/><circle cx="884" cy="1178" r="3.3"/>
<circle cx="912" cy="1152" r="3.3"/><circle cx="920" cy="1160" r="3.3"/><circle cx="914" cy="1170" r="3.3"/><circle cx="922" cy="1176" r="3.3"/><circle cx="910" cy="1179" r="3.3"/>
<circle cx="950" cy="1098" r="3.3"/><circle cx="942" cy="1105" r="3.3"/><circle cx="952" cy="1115" r="3.3"/><circle cx="946" cy="1125" r="3.3"/><circle cx="940" cy="1163" r="3.3"/>
<circle cx="976" cy="976" r="3.3"/><circle cx="980" cy="1025" r="3.3"/><circle cx="982" cy="1045" r="3.3"/><circle cx="970" cy="1110" r="3.3"/><circle cx="980" cy="1130" r="3.3"/><circle cx="972" cy="1150" r="3.3"/><circle cx="975" cy="1176" r="3.3"/></g>
<text x="934" y="1199" class="s" text-anchor="middle" font-size="11.5">(+/+)(+/Δ)(+/+)(+/Δ)</text>
<line x1="935" y1="1204" x2="993" y2="1204" class="ax"/>
<text x="965" y="1221" class="s" text-anchor="middle" font-size="12.5">p53<tspan font-size="9" dy="-5">(Δ/Δ)vil</tspan></text>

<!-- u -->
<text x="8" y="1250" class="L">u</text>
<line x1="30" y1="1264" x2="250" y2="1264" stroke="#222" stroke-width="2.5"/>
<path d="M57 1252 H105 V1240 L137 1264 L105 1288 V1276 H57 Z" fill="#bdbdbd"/>
<text x="93" y="1270" class="i" text-anchor="middle" font-size="15">pVillin</text>
<rect x="143" y="1252" width="80" height="24" rx="9" fill="#bdbdbd"/>
<text x="183" y="1270" text-anchor="middle" font-size="15">Cre-ER<tspan font-size="9" dy="-6">T2</tspan></text>
<text x="137" y="1297" text-anchor="middle" font-size="16">x</text>
<line x1="30" y1="1322" x2="250" y2="1322" stroke="#222" stroke-width="2.5"/>
<path d="M36 1310 H70 V1298 L103 1322 L70 1346 V1334 H36 Z" fill="#f09cc0"/>
<text x="66" y="1328" class="i" text-anchor="middle" font-size="15">pAPC</text>
<g stroke="#b5247a" stroke-width="1.5"><line x1="108" y1="1313" x2="108" y2="1332"/><line x1="112" y1="1313" x2="112" y2="1332"/><line x1="116" y1="1313" x2="116" y2="1332"/><line x1="120" y1="1313" x2="120" y2="1332"/><line x1="124" y1="1313" x2="124" y2="1332"/><line x1="128" y1="1313" x2="128" y2="1332"/><line x1="132" y1="1313" x2="132" y2="1332"/><line x1="136" y1="1313" x2="136" y2="1332"/><line x1="140" y1="1313" x2="140" y2="1332"/><line x1="144" y1="1313" x2="144" y2="1332"/><line x1="148" y1="1313" x2="148" y2="1332"/><line x1="152" y1="1313" x2="152" y2="1332"/><line x1="156" y1="1313" x2="156" y2="1332"/><line x1="160" y1="1313" x2="160" y2="1332"/></g>
<path d="M163 1312 L176 1322 L163 1332 Z" fill="#111"/>
<rect x="178" y="1310" width="45" height="24" fill="#b5247a"/><text x="200" y="1328" text-anchor="middle" font-size="15">E15</text>
<path d="M225 1312 L238 1322 L225 1332 Z" fill="#111"/>
<text x="150" y="1346" class="i">LoxP</text><text x="213" y="1346" class="i">LoxP</text>
<text x="137" y="1362" text-anchor="middle" font-size="16">x</text>
<line x1="30" y1="1385" x2="250" y2="1385" stroke="#222" stroke-width="2.5"/>
<path d="M57 1373 H95 V1361 L127 1385 L95 1409 V1397 H57 Z" fill="#bdbdbd"/>
<text x="88" y="1391" class="i" text-anchor="middle" font-size="15">pVillin</text>
<rect x="140" y="1373" width="87" height="24" rx="9" fill="#bdbdbd"/><text x="183" y="1391" text-anchor="middle" font-size="15">rtTA</text>
<text x="137" y="1420" text-anchor="middle" font-size="16">x</text>
<line x1="30" y1="1444" x2="250" y2="1444" stroke="#222" stroke-width="2.5"/>
<path d="M46 1432 H95 V1420 L127 1444 L95 1468 V1456 H46 Z" fill="#e07b5a"/>
<text x="86" y="1450" class="i" text-anchor="middle" font-size="15">pColA1</text>
<rect x="133" y="1432" width="50" height="24" rx="9" fill="#c0141c"/><text x="158" y="1450" text-anchor="middle" font-size="15" style="fill:#fff">tetO</text>
<rect x="187" y="1432" width="50" height="24" rx="9" fill="#c0141c"/><text x="212" y="1450" text-anchor="middle" font-size="15" style="fill:#fff">hURI</text>

<!-- v -->
<text x="8" y="1492" class="L">v</text>
<line x1="35" y1="1548" x2="243" y2="1548" stroke="#222" stroke-width="2"/>
<rect x="93" y="1540" width="38" height="16" fill="#ec2a7c"/><rect x="131" y="1540" width="112" height="16" fill="#8cc13f"/>
<line x1="35" y1="1536" x2="35" y2="1558" class="ax" stroke-width="2"/><line x1="93" y1="1536" x2="93" y2="1558" class="ax" stroke-width="2"/><line x1="131" y1="1536" x2="131" y2="1558" class="ax" stroke-width="2"/><line x1="243" y1="1536" x2="243" y2="1558" class="ax" stroke-width="2"/>
<text x="93" y="1530" text-anchor="middle">8 w</text><text x="131" y="1530" text-anchor="middle">10 w</text><text x="243" y="1530" text-anchor="middle">25 w</text>
<text x="33" y="1567" text-anchor="middle">Born</text><text x="99" y="1567" text-anchor="middle" style="fill:#ec2a7c">Tamoxifen</text><text x="171" y="1567" text-anchor="middle" style="fill:#4aa02c">Doxycycline</text><text x="243" y="1567" text-anchor="middle">Sacrifice</text>
<text x="221" y="1580" text-anchor="middle">n = 34,19</text>

<!-- w -->
<text x="262" y="1250" class="L">w</text>
<rect x="276" y="1265" width="20" height="128" class="lb"/><rect x="276" y="1397" width="20" height="163" class="lb"/>
<text transform="translate(291,1330) rotate(-90)" text-anchor="middle">(+/+)</text>
<text transform="translate(291,1478) rotate(-90)" text-anchor="middle">(+/KI)</text>
<text transform="translate(268,1412) rotate(-90)" text-anchor="middle">hURI<tspan font-size="9" dy="-5">vil</tspan></text>
<rect x="300" y="1265" width="230" height="128" fill="#eef0f2"/><path d="M300 1290 Q400 1268 530 1290 V1393 H300Z" class="h"/>
<rect x="300" y="1397" width="230" height="163" class="h"/><rect x="300" y="1397" width="55" height="18" fill="#eef0f2"/>
<text x="487" y="1408" font-size="11">1000 µm</text><line x1="500" y1="1413" x2="528" y2="1413" class="ax"/>

<!-- x -->
<text x="548" y="1253" class="L">x</text>
<text x="632" y="1258" text-anchor="middle">p=0.048</text><text x="628" y="1280" text-anchor="middle" font-size="20">*</text>
<text transform="translate(557,1385) rotate(-90)" text-anchor="middle" font-size="13.5">Number of tumors</text>
<line x1="585" y1="1290" x2="585" y2="1478" class="ax"/><line x1="585" y1="1478" x2="672" y2="1478" class="ax"/>
<text x="579" y="1481" class="s" text-anchor="end">0</text><text x="579" y="1439" class="s" text-anchor="end">10</text><text x="579" y="1397" class="s" text-anchor="end">20</text><text x="579" y="1355" class="s" text-anchor="end">30</text><text x="579" y="1313" class="s" text-anchor="end">40</text>
<rect x="592" y="1432" width="36" height="46" fill="#f19ec2" stroke="#1fa64a" stroke-width="2.5"/><rect x="632" y="1407" width="36" height="71" fill="#b5247a" stroke="#1fa64a" stroke-width="2.5"/>
<path d="M610 1425 V1440 M606 1425 H614 M606 1440 H614 M650 1398 V1418 M646 1398 H654 M646 1418 H654" class="eb"/>
<g class="d"><circle cx="612" cy="1343" r="3.3"/><circle cx="604" cy="1372" r="3.3"/><circle cx="618" cy="1385" r="3.3"/><circle cx="600" cy="1400" r="3.3"/><circle cx="612" cy="1410" r="3.3"/><circle cx="620" cy="1420" r="3.3"/><circle cx="606" cy="1428" r="3.3"/><circle cx="598" cy="1440" r="3.3"/><circle cx="614" cy="1446" r="3.3"/><circle cx="622" cy="1455" r="3.3"/><circle cx="604" cy="1460" r="3.3"/><circle cx="612" cy="1468" r="3.3"/><circle cx="600" cy="1473" r="3.3"/>
<circle cx="646" cy="1301" r="3.3"/><circle cx="648" cy="1335" r="3.3"/><circle cx="656" cy="1355" r="3.3"/><circle cx="640" cy="1370" r="3.3"/><circle cx="652" cy="1385" r="3.3"/><circle cx="660" cy="1398" r="3.3"/><circle cx="642" cy="1410" r="3.3"/><circle cx="656" cy="1425" r="3.3"/><circle cx="646" cy="1440" r="3.3"/><circle cx="658" cy="1452" r="3.3"/><circle cx="650" cy="1468" r="3.3"/></g>
<text x="610" y="1494" class="s" text-anchor="middle">(+/+)</text><text x="650" y="1494" class="s" text-anchor="middle">(+/KI)</text>
<rect x="569" y="1508" width="20" height="20" fill="#f19ec2" stroke="#1fa64a" stroke-width="2.5"/><rect x="569" y="1531" width="20" height="20" fill="#b5247a" stroke="#1fa64a" stroke-width="2.5"/>
<text x="593" y="1523" class="i" font-size="14">APC<tspan font-size="9" dy="-6">(+/15Δ)vil</tspan><tspan dy="6" font-style="normal">; hURI</tspan><tspan font-size="9" dy="-6" font-style="normal">(+/+)vil</tspan></text>
<text x="593" y="1546" class="i" font-size="14">APC<tspan font-size="9" dy="-6">(+/15Δ)vil</tspan><tspan dy="6" font-style="normal">; hURI</tspan><tspan font-size="9" dy="-6" font-style="normal">(+/KI)vil</tspan></text>

<!-- y -->
<text x="676" y="1253" class="L">y</text>
<text transform="translate(695,1370) rotate(-90)" text-anchor="middle" font-size="13.5">Tumour size</text>
<line x1="757" y1="1240" x2="757" y2="1490" class="ax"/><line x1="757" y1="1490" x2="870" y2="1490" class="ax"/>
<text x="751" y="1433" class="s" text-anchor="end">2.5e+07</text><text x="751" y="1373" class="s" text-anchor="end">5.0e+07</text><text x="751" y="1313" class="s" text-anchor="end">7.5e+07</text><text x="751" y="1253" class="s" text-anchor="end">1.0e+08</text>
<path d="M785 1252 C786 1350 790 1440 800 1480 C803 1490 790 1490 785 1490 C780 1490 767 1490 770 1480 C780 1440 784 1350 785 1252Z" fill="#f19ec2" stroke="#1fa64a" stroke-width="2"/>
<path d="M840 1380 C842 1430 850 1460 868 1480 C872 1490 850 1490 840 1490 C830 1490 808 1490 812 1480 C830 1460 838 1430 840 1380Z" fill="#b5247a" stroke="#1fa64a" stroke-width="2"/>
<rect x="779" y="1400" width="12" height="85" fill="#fff" stroke="#333"/><rect x="834" y="1445" width="12" height="40" fill="#fff" stroke="#333"/>
<g fill="#333"><circle cx="785" cy="1252" r="3"/><circle cx="785" cy="1262" r="3"/><circle cx="785" cy="1275" r="3"/><circle cx="840" cy="1382" r="3"/><circle cx="840" cy="1392" r="3"/></g>
<text x="785" y="1506" class="s" text-anchor="middle">(+/+)</text><text x="840" y="1506" class="s" text-anchor="middle">(+/KI)</text>

<!-- z -->
<text x="868" y="1253" class="L">z</text>
<text x="875" y="1268" class="i" font-size="14">APC<tspan font-size="9" font-style="normal" dy="-6">vil</tspan></text>
<text x="965" y="1266" text-anchor="middle">(+/+)</text><text x="1113" y="1266" text-anchor="middle">(+/15Δ)</text>
<line x1="928" y1="1273" x2="1005" y2="1273" class="ax"/><line x1="1030" y1="1273" x2="1195" y2="1273" class="ax"/>
<text x="875" y="1292" font-size="14">hURI<tspan font-size="9" dy="-6">vil</tspan></text>
<text x="965" y="1290" text-anchor="middle">(+/+)</text><text x="1070" y="1290" text-anchor="middle">(+/+)</text><text x="1160" y="1290" text-anchor="middle">(+/KI)</text>
<line x1="928" y1="1298" x2="1005" y2="1298" class="ax"/><line x1="1035" y1="1298" x2="1105" y2="1298" class="ax"/><line x1="1120" y1="1298" x2="1195" y2="1298" class="ax"/>
<text x="1215" y="1280">MW</text><text x="1215" y="1296">(kDa)</text>
<rect x="915" y="1305" width="295" height="65" class="bl"/><rect x="915" y="1373" width="295" height="40" class="bl"/><rect x="915" y="1415" width="295" height="32" class="bl"/><rect x="915" y="1450" width="295" height="28" class="bl"/>
<g class="bd">
<ellipse cx="932" cy="1333" rx="16" ry="6"/><ellipse cx="968" cy="1334" rx="16" ry="5"/><ellipse cx="1000" cy="1337" rx="14" ry="5" opacity=".85"/><ellipse cx="1035" cy="1339" rx="12" ry="4" opacity=".6"/><ellipse cx="1068" cy="1342" rx="10" ry="3" opacity=".3"/><ellipse cx="1100" cy="1338" rx="12" ry="4" opacity=".6"/><ellipse cx="1138" cy="1338" rx="12" ry="4" opacity=".55"/><ellipse cx="1165" cy="1338" rx="12" ry="4" opacity=".6"/>
<ellipse cx="932" cy="1391" rx="16" ry="7"/><ellipse cx="968" cy="1392" rx="18" ry="8"/><ellipse cx="1000" cy="1394" rx="14" ry="6" opacity=".85"/><ellipse cx="1035" cy="1396" rx="12" ry="3" opacity=".4"/><ellipse cx="1068" cy="1396" rx="10" ry="3" opacity=".4"/><ellipse cx="1100" cy="1393" rx="14" ry="5" opacity=".75"/><ellipse cx="1138" cy="1396" rx="12" ry="3" opacity=".4"/><ellipse cx="1190" cy="1396" rx="10" ry="3" opacity=".3"/>
<ellipse cx="932" cy="1430" rx="14" ry="5"/><ellipse cx="968" cy="1430" rx="14" ry="5"/><ellipse cx="1000" cy="1430" rx="14" ry="5"/><ellipse cx="1035" cy="1430" rx="14" ry="5"/><ellipse cx="1068" cy="1430" rx="14" ry="5"/><ellipse cx="1100" cy="1430" rx="14" ry="5"/><ellipse cx="1138" cy="1430" rx="14" ry="5" opacity=".7"/><ellipse cx="1175" cy="1430" rx="14" ry="5"/>
<ellipse cx="932" cy="1463" rx="14" ry="3"/><ellipse cx="968" cy="1464" rx="14" ry="3"/><ellipse cx="1000" cy="1462" rx="14" ry="4"/><ellipse cx="1035" cy="1465" rx="14" ry="3"/><ellipse cx="1068" cy="1465" rx="14" ry="3"/><ellipse cx="1100" cy="1462" rx="14" ry="4"/><ellipse cx="1138" cy="1465" rx="14" ry="3"/><ellipse cx="1175" cy="1465" rx="14" ry="3"/>
</g>
<text x="910" y="1340" text-anchor="end">p53</text><text x="910" y="1397" text-anchor="end">p21</text><text x="910" y="1434" text-anchor="end">MDM2</text><text x="910" y="1467" text-anchor="end">Vinculin</text>
<g class="ax"><line x1="1210" y1="1313" x2="1218" y2="1313"/><line x1="1210" y1="1352" x2="1218" y2="1352"/><line x1="1210" y1="1392" x2="1218" y2="1392"/><line x1="1210" y1="1435" x2="1218" y2="1435"/><line x1="1210" y1="1452" x2="1218" y2="1452"/><line x1="1210" y1="1472" x2="1218" y2="1472"/></g>
<text x="1225" y="1317">63</text><text x="1225" y="1356">48</text><text x="1225" y="1396">28</text><text x="1225" y="1439">63</text><text x="1225" y="1456">130</text><text x="1225" y="1476">100</text>
</svg>
</body></html>
